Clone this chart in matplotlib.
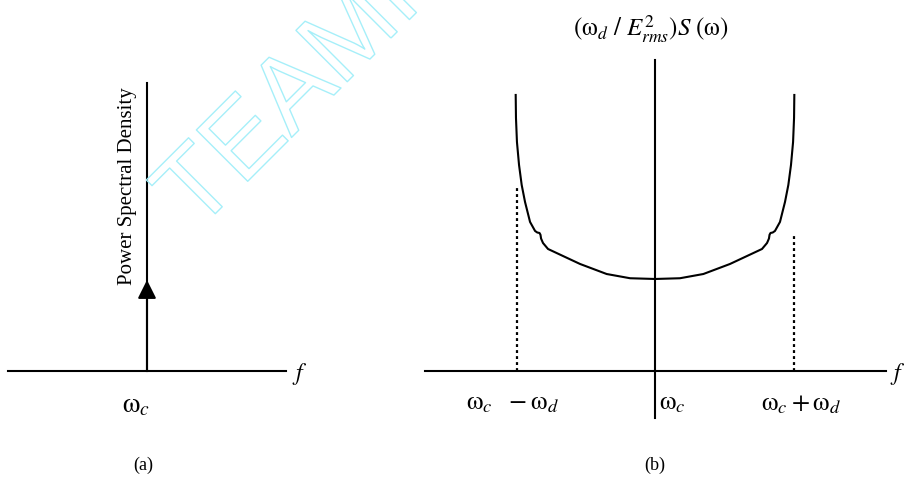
import matplotlib.pyplot as plt
import matplotlib.patheffects as pe

plt.rcParams['font.family'] = ['Liberation Serif', 'DejaVu Serif']
plt.rcParams['mathtext.fontset'] = 'stix'

# (a) pure carrier: a single impulse at wc
impulse_at = 0.0
impulse_height = 1.0

# (b) spectrum against (w - wc)/wd, scaled so that S(wc) = 1
offset_left = [-1.000, -0.998, -0.991, -0.976, -0.957, -0.933, -0.897, -0.875, -0.861,
               -0.845, -0.829, -0.822, -0.818, -0.804, -0.768, -0.682, -0.538,
               -0.347, -0.179, 0.0]
level_left = [3.000, 2.750, 2.489, 2.239, 2.022, 1.837, 1.620, 1.560, 1.522,
              1.505, 1.500, 1.480, 1.440, 1.391, 1.326, 1.265, 1.163,
              1.054, 1.008, 1.0]
offset_right = [-v for v in reversed(offset_left)]
level_right = list(reversed(level_left))

# dotted markers at wc - wd and wc + wd
edge_offsets = [-0.99, 1.0]
edge_levels = [2.0, 1.5]

bottom_labels = [r'$\mathrm{\omega}_{c}\ \ -\mathrm{\omega}_{d}$',
                 r'$\mathrm{\omega}_{c}$',
                 r'$\mathrm{\omega}_{c}+\mathrm{\omega}_{d}$']

fig = plt.figure(figsize=(9.05, 4.78), dpi=100)
lw = 1.5

# ---- panel (a)
ax_a = fig.add_axes([8 / 905, 107 / 478, 278 / 905, 288 / 478])
ax_a.set_xlim(-1, 1)
ax_a.set_ylim(0, 3.165)
ax_a.axis('off')
ax_a.axhline(0, color='black', lw=lw, clip_on=False)
ax_a.axvline(impulse_at, color='black', lw=lw, clip_on=False)
ax_a.annotate('', xy=(impulse_at, impulse_height), xytext=(impulse_at, 0),
              arrowprops=dict(arrowstyle='-|>,head_length=0.8,head_width=0.4',
                              mutation_scale=14, color='black', lw=lw,
                              shrinkA=0, shrinkB=0))
ax_a.text(-0.14, 2.03, 'Power Spectral Density', rotation=90,
          ha='center', va='center', fontsize=15)
ax_a.annotate('$f$', xy=(1, 0), xytext=(4, -2), textcoords='offset points',
              ha='left', va='center', fontsize=17)
ax_a.annotate(r'$\mathrm{\omega}_{c}$', xy=(impulse_at, 0), xytext=(-8, -25),
              textcoords='offset points', ha='center', va='center', fontsize=20)
ax_a.annotate('(a)', xy=(impulse_at, 0), xytext=(-3, -68),
              textcoords='offset points', ha='center', va='center', fontsize=13)

# ---- panel (b)
ax_b = fig.add_axes([425 / 905, 60 / 478, 461 / 905, 358 / 478])
ax_b.set_xlim(-1.651, 1.658)
ax_b.set_ylim(-0.511, 3.380)
ax_b.axis('off')
ax_b.axhline(0, color='black', lw=lw, clip_on=False)
ax_b.axvline(0, color='black', lw=lw, clip_on=False)
ax_b.plot(offset_left, level_left, color='black', lw=lw)
ax_b.plot(offset_right, level_right, color='black', lw=lw)
for xo, yl in zip(edge_offsets, edge_levels):
    ax_b.plot([xo, xo], [0, yl], color='black', lw=1.6, ls=(0, (1.3, 1.4)))

ax_b.annotate('$f$', xy=(1.658, 0), xytext=(3, -2), textcoords='offset points',
              ha='left', va='center', fontsize=17)
ax_b.annotate(bottom_labels[0], xy=(-1, 0), xytext=(-2, -24),
              textcoords='offset points', ha='center', va='center', fontsize=19)
ax_b.annotate(bottom_labels[1], xy=(0, 0), xytext=(3, -24),
              textcoords='offset points', ha='left', va='center', fontsize=19)
ax_b.annotate(bottom_labels[2], xy=(1, 0), xytext=(5, -24),
              textcoords='offset points', ha='center', va='center', fontsize=19)
ax_b.annotate('(b)', xy=(0, 0), xytext=(0, -68),
              textcoords='offset points', ha='center', va='center', fontsize=13)
ax_b.annotate(r'$(\mathrm{\omega}_{d}\ /\ E^{2}_{rms})S\ (\mathrm{\omega})$',
              xy=(0, 3.380), xytext=(-3, 22), textcoords='offset points',
              ha='center', va='center', fontsize=18)

# faint outlined watermark
fig.text(196 / 905, 245 / 478, 'TEAMFLY', rotation=45, rotation_mode='anchor',
         ha='left', va='baseline', fontsize=76, family='Liberation Sans',
         color='none',
         path_effects=[pe.withStroke(linewidth=1.0, foreground='#a6eff9')])

fig.savefig('out.png', dpi=100)
